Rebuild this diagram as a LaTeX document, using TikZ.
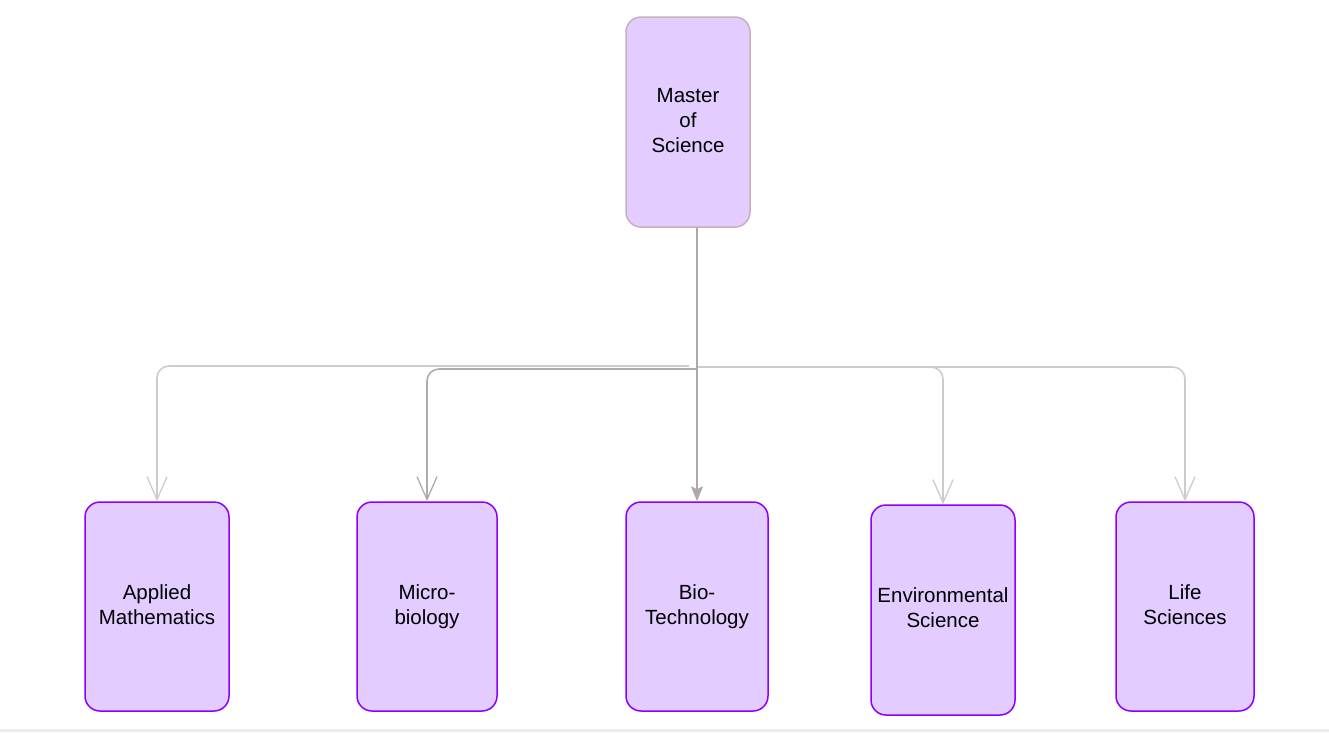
\documentclass[tikz,border=0pt]{standalone}
\usepackage{fontspec}
\setmainfont{Liberation Sans}
\usetikzlibrary{arrows.meta}
\definecolor{boxfill}{HTML}{E3CCFF}
\definecolor{boxline}{HTML}{8B00FF}
\definecolor{topline}{HTML}{C9B0B8}
\definecolor{lightln}{HTML}{CCCCCC}
\definecolor{midln}{HTML}{ADADAD}
\definecolor{bioln}{HTML}{B0A8A8}
\definecolor{stripgray}{HTML}{EBEBEB}
\tikzset{
  box/.style={rectangle, rounded corners=15pt, fill=boxfill, draw=boxline, line width=1.5pt,
    align=center, font=\fontsize{20.5}{25}\selectfont, inner sep=0pt},
  topbox/.style={box, draw=topline},
  branch/.style={line width=1.6pt, rounded corners=12pt, -{Straight Barb[length=23pt,width=20pt,line width=1.3pt]}},
}
\begin{document}
\begin{tikzpicture}[x=1pt,y=-1pt]
\useasboundingbox (0,0) rectangle (1329,732);
\fill[stripgray] (0,729) rectangle (1329,732);
\node[topbox, minimum width=124pt, minimum height=210pt] (m) at (688,122) {\strut Master\\\strut of\\\strut Science};
\node[box, minimum width=144pt, minimum height=209pt] (am) at (157,606.5) {\strut Applied\\\strut Mathematics};
\node[box, minimum width=140pt, minimum height=209pt] (mb) at (427,606.5) {\strut Micro-\\\strut biology};
\node[box, minimum width=142pt, minimum height=209pt] (bt) at (697,606.5) {\strut Bio-\\\strut Technology};
\node[box, minimum width=144pt, minimum height=210pt] (es) at (943,610) {\strut Environmental\\\strut Science};
\node[box, minimum width=138pt, minimum height=209pt] (ls) at (1185,606.5) {\strut Life\\\strut Sciences};
\coordinate (j) at (697,367);
\coordinate (jl) at (689,366);
\coordinate (jm) at (697,369);
\draw[branch, draw=lightln] (jl) -| (am.north);
\draw[branch, draw=lightln] (j) -| (es.north);
\draw[branch, draw=lightln] (j) -| (ls.north);
\draw[branch, draw=midln] (jm) -| (mb.north);
\draw[line width=1.6pt, draw=bioln, -{Stealth[length=15pt,width=12pt,inset=3pt]}] (bt.north |- m.south) -- (bt.north);
\end{tikzpicture}
\end{document}
